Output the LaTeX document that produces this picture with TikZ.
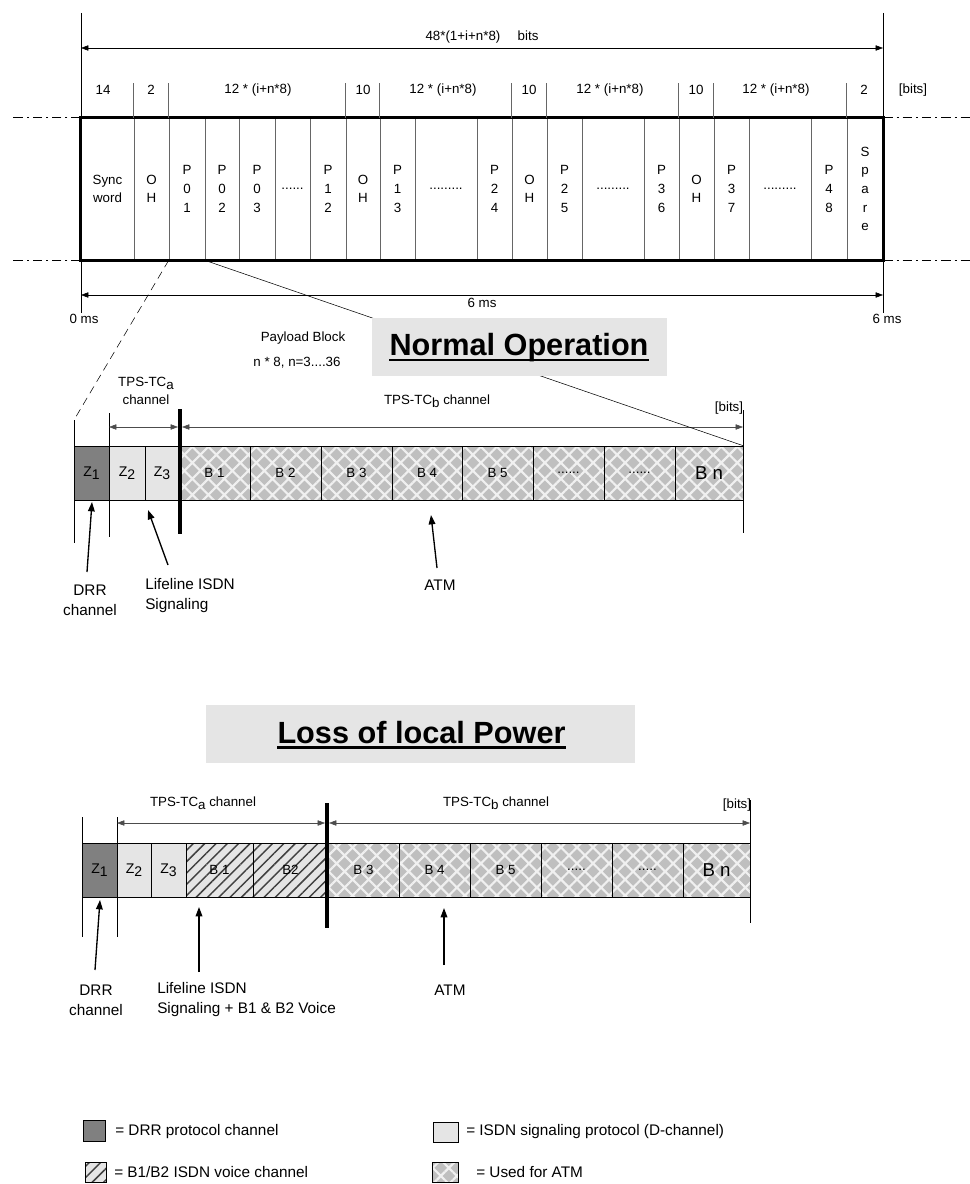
\documentclass[tikz,border=0pt]{standalone}
\usepackage{fontspec}
\setmainfont{Liberation Sans}
\usetikzlibrary{arrows.meta,patterns.meta}

\newcommand\lblfont{\fontsize{10}{14}\selectfont}
\newcommand\blockfont{\fontsize{10}{12}\selectfont}
\newcommand\zfont{\fontsize{10.5}{12}\selectfont}
\newcommand\notefont{\fontsize{11.5}{15}\selectfont}
\newcommand\bannerfont{\fontsize{23}{26}\selectfont\bfseries}
\newcommand\lowered[1]{\raisebox{-2.5pt}{#1}}

\begin{document}
\begin{tikzpicture}[x=0.75pt, y=-0.75pt,
    % Node styles
    cell/.style={draw=black!60, minimum height=106.5pt, inner sep=0pt, align=center, font=\lblfont},
    zone/.style={draw, minimum height=40.5pt, inner sep=0pt, font=\blockfont},
    drr/.style={zone, fill=gray},
    isdn/.style={zone, fill=gray!20},
    voice/.style={zone, preaction={fill=gray!20}, pattern={Lines[angle=45,distance=6pt,line width=1.1pt]}, pattern color=black!75},
    atm/.style={zone, preaction={fill=gray!50}, pattern={Hatch[angle=45,distance=8.5pt,line width=1.6pt]}, pattern color=gray!12},
    lbl/.style={font=\lblfont, inner sep=1pt},
    note/.style={font=\notefont, align=left, inner sep=0pt},
    banner/.style={fill=gray!20, minimum height=43.5pt},
    bannertext/.style={font=\bannerfont, inner sep=0pt, anchor=base},
    dimarrow/.style={{Triangle[length=5.5pt,width=4pt]}-{Triangle[length=5.5pt,width=4pt]}},
    pointer/.style={-{Triangle[length=7pt,width=5pt]}, line width=1pt},
    frameline/.style={line width=2.2pt},
    divider/.style={line width=3pt},
    dashdot/.style={dash pattern=on 7pt off 3pt on 1.5pt off 3pt}
]
\useasboundingbox (0,0) rectangle (970,1184);

% Frame cells
\foreach \l/\r/\t [count=\i] in {81/134/{Sync\\word}, 134/169/{O\\H}, 169/205/{P\\0\\1},
    205/239/{P\\0\\2}, 239/275/{P\\0\\3}, 275/310/{......}, 310/346/{P\\1\\2}, 346/380/{O\\H},
    380/415/{P\\1\\3}, 415/477/{.........}, 477/512/{P\\2\\4}, 512/547/{O\\H}, 547/582/{P\\2\\5},
    582/644/{.........}, 644/679/{P\\3\\6}, 679/714/{O\\H}, 714/749/{P\\3\\7}, 749/811/{.........},
    811/847/{P\\4\\8}, 847/883/{S\\p\\a\\r\\e}}
  \node[cell, minimum width={(\r-\l)*0.75pt}] (f\i) at ({(\l+\r)/2},189) {\t};
\draw[frameline] (f1.north west) rectangle (f20.south east);

% Frame limits
\coordinate (lt) at (81,13);
\coordinate (lb) at (81,313);
\coordinate (rt) at (883,13);
\coordinate (rb) at (883,313);
\draw (lt) -- (lb);
\draw (rt) -- (rb);
\draw[dashdot] (f1.north west) -- ++(-71,0);
\draw[dashdot] (f1.south west) -- ++(-71,0);
\draw[dashdot] (f20.north east) -- ++(87,0);
\draw[dashdot] (f20.south east) -- ++(87,0);

% Bit counts
\foreach \k in {2,3,8,9,12,13,16,17,20}
  \draw[black!60] (f\k.north west) -- ++(0,-35);
\node[lbl] (w1) at (103,90) {14};
\node[lbl] (w2) at (151,90) {2};
\node[lbl] (w3) at (258,90) {12 * (i+n*8)};
\node[lbl] (w4) at (363,90) {10};
\node[lbl] (w5) at (443,90) {12 * (i+n*8)};
\node[lbl] (w6) at (529,90) {10};
\node[lbl] (w7) at (610,90) {12 * (i+n*8)};
\node[lbl] (w8) at (696,90) {10};
\node[lbl] (w9) at (776,90) {12 * (i+n*8)};
\node[lbl] (w10) at (864,90) {2};
\node[lbl] (w11) at (913,90) {[bits]};

% Total length and duration
\coordinate (t0) at (81,48);
\coordinate (t1) at (883,48);
\draw[dimarrow] (t0) -- node[lbl, above=2pt] (total) {48*(1+i+n*8)\hspace{1.3em}bits} (t1);
\coordinate (d0) at (81,295);
\coordinate (d1) at (883,295);
\draw[dimarrow] (d0) -- node[lbl, below=1pt] (dur) {6 ms} (d1);
\node[lbl] (ms0) at (84,319) {0 ms};
\node[lbl] (ms6) at (887,319) {6 ms};

% Payload block, normal operation
\foreach \l/\r/\s/\t [count=\i] in {74/109/drr/{\zfont Z\lowered{1}}, 109/145/isdn/{\zfont Z\lowered{2}},
    145/179/isdn/{\zfont Z\lowered{3}}, 179/250/atm/{B 1}, 250/321/atm/{B 2}, 321/392/atm/{B 3},
    392/462/atm/{B 4}, 462/533/atm/{B 5}, 533/604/atm/{......}, 604/675/atm/{......},
    675/743/atm/{\fontsize{14}{16}\selectfont B n}}
  \node[\s, minimum width={(\r-\l)*0.75pt}] (n\i) at ({(\l+\r)/2},473) {\t};
\draw (74,420) -- (74,543);
\draw (109,413) -- (109,537);
\draw (743,410) -- (743,533);
\coordinate (nv0) at (180,409);
\coordinate (nv1) at (180,534);
\draw[divider] (nv0) -- (nv1);
\coordinate (na0) at (109,427);
\coordinate (na1) at (178,427);
\coordinate (nb0) at (182,427);
\coordinate (nb1) at (743,427);
\draw[dimarrow, black!70] (na0) -- (na1);
\draw[dimarrow, black!70] (nb0) -- (nb1);
\node[lbl, align=center] (ntca) at (146,391) {TPS-TC\lowered{a}\\channel};
\node[lbl] (ntcb) at (437,401) {TPS-TC\lowered{b} channel};
\node[lbl] (nbits) at (729,408) {[bits]};
\node[lbl] (pay) at (303,338) {Payload Block};
\node[lbl] (payn) at (297,363) {n * 8, n=3....36};

% Zoom lines
\coordinate (nl0) at (74,420);
\draw[dashed, dash pattern=on 6pt off 4pt] (f3.south west) -- (nl0);
\draw (f4.south west) -- (n11.north east);

% Normal operation title
\node[banner, minimum width=221.25pt] (nrm) at (519.5,347) {};
\node[bannertext] (nrmtxt) at (519,355) {Normal Operation};
\draw[line width=1.8pt] ([yshift=-3.8pt]nrmtxt.base west) -- ([yshift=-3.8pt]nrmtxt.base east);

% Pointers, normal operation
\coordinate (np1) at (87,572);
\coordinate (nq1) at (92,502);
\coordinate (np2) at (168,565);
\coordinate (nq2) at (148,510);
\coordinate (np3) at (437,568);
\coordinate (nq3) at (431,515);
\draw[pointer] (np1) -- (nq1);
\draw[pointer] (np2) -- (nq2);
\draw[pointer] (np3) -- (nq3);
\node[note, align=center] (ndrr) at (90,600) {DRR\\channel};
\node[note, anchor=west] (nlife) at (145,596) {Lifeline ISDN\\Signaling};
\node[note] (natm) at (440,585) {ATM};

% Loss of local power title
\node[banner, minimum width=321.75pt] (loss) at (420.5,734) {};
\node[bannertext] (losstxt) at (421.5,743) {Loss of local Power};
\draw[line width=1.8pt] ([yshift=-3.3pt]losstxt.base west) -- ([yshift=-3.3pt]losstxt.base east);

% Payload block, loss of local power
\foreach \l/\r/\s/\t [count=\i] in {82/117/drr/{\zfont Z\lowered{1}}, 117/151/isdn/{\zfont Z\lowered{2}},
    151/186/isdn/{\zfont Z\lowered{3}}, 186/253/voice/{B 1}, 253/328/voice/{B2}, 328/399/atm/{B 3},
    399/470/atm/{B 4}, 470/541/atm/{B 5}, 541/612/atm/{.....}, 612/683/atm/{.....},
    683/750/atm/{\fontsize{14}{16}\selectfont B n}}
  \node[\s, minimum width={(\r-\l)*0.75pt}] (l\i) at ({(\l+\r)/2},870) {\t};
\draw (82,817) -- (82,937);
\draw (117,817) -- (117,937);
\draw (750,800) -- (750,923);
\coordinate (lv0) at (327,803);
\coordinate (lv1) at (327,928);
\draw[divider] (lv0) -- (lv1);
\coordinate (la0) at (117,823);
\coordinate (la1) at (325,823);
\coordinate (lb0) at (329,823);
\coordinate (lb1) at (750,823);
\draw[dimarrow, black!70] (la0) -- (la1);
\draw[dimarrow, black!70] (lb0) -- (lb1);
\node[lbl] (ltca) at (203,803) {TPS-TC\lowered{a} channel};
\node[lbl] (ltcb) at (496,803) {TPS-TC\lowered{b} channel};
\node[lbl] (lbits) at (737,805) {[bits]};

% Pointers, loss of local power
\coordinate (lp1) at (95,970);
\coordinate (lq1) at (100,900);
\coordinate (lp2) at (199,972);
\coordinate (lq2) at (199,907);
\coordinate (lp3) at (444,965);
\coordinate (lq3) at (444,908);
\draw[pointer] (lp1) -- (lq1);
\draw[pointer] (lp2) -- (lq2);
\draw[pointer] (lp3) -- (lq3);
\node[note, align=center] (ldrr) at (96,1000) {DRR\\channel};
\node[note, anchor=west] (llife) at (157,1000) {Lifeline ISDN\\Signaling + B1 \& B2 Voice};
\node[note] (latm) at (450,990) {ATM};

% Legend
\node[drr, minimum width=16.5pt, minimum height=16pt] (k1) at (94,1131) {};
\node[note, anchor=west] (k1t) at (115,1132) {= DRR protocol channel};
\node[isdn, minimum width=19pt, minimum height=15pt] (k2) at (445.5,1132) {};
\node[note, anchor=west] (k2t) at (466,1132) {= ISDN signaling protocol (D-channel)};
\node[voice, minimum width=15.75pt, minimum height=15pt] (k3) at (95.5,1172) {};
\node[note, anchor=west] (k3t) at (114,1172) {= B1/B2 ISDN voice channel};
\node[atm, minimum width=19.5pt, minimum height=15pt] (k4) at (445,1172) {};
\node[note, anchor=west] (k4t) at (476,1172) {= Used for ATM};

\end{tikzpicture}
\end{document}
